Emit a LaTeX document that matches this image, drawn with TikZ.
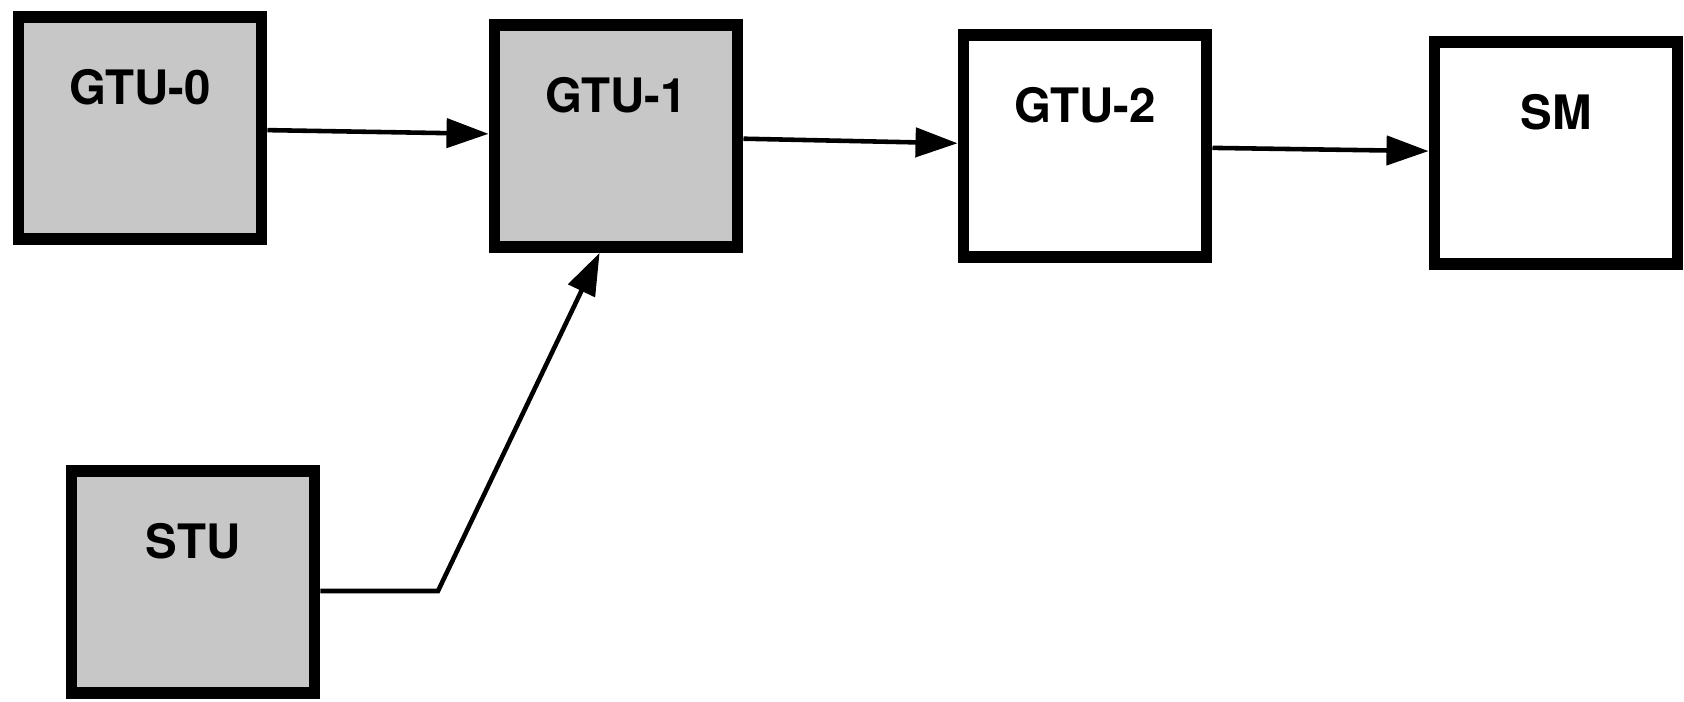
\documentclass[tikz,border=0pt]{standalone}
\usepackage{fontspec}
\setsansfont{TeX Gyre Heros}
\usetikzlibrary{arrows.meta}
\definecolor{unitgray}{gray}{0.78}
\tikzset{
  unit/.style={draw, line width=3.4pt, minimum width=2.43cm, inner sep=0pt,
    text height=.88cm, text depth=1.34cm,
    font=\sffamily\bfseries\fontsize{13.5}{16}\selectfont},
  busy/.style={unit, fill=unitgray},
  idle/.style={unit, fill=white},
  flow/.style={line width=1.3pt, -{Triangle[length=4.2mm, width=2.9mm]}}
}

\begin{document}
\begin{tikzpicture}[x=.1mm, y=-.1mm]
  \useasboundingbox (0,0) rectangle (1684,702);
  \node[busy] at (140,128) (gtu0) {GTU-0};
  \node[busy] at (616,136) (gtu1) {GTU-1};
  \node[idle] at (1085,146) (gtu2) {GTU-2};
  \node[idle] at (1556,153) (sm) {SM};
  \node[busy] at (193,582) (stu) {STU};
  \coordinate (bend) at (438,591);
  \draw [flow] (gtu0) -- (gtu1);
  \draw [flow] (gtu1) -- (gtu2);
  \draw [flow] (gtu2) -- (sm);
  \draw [flow] (stu.east |- bend) -- (bend) -- (gtu1.-98);
\end{tikzpicture}
\end{document}
